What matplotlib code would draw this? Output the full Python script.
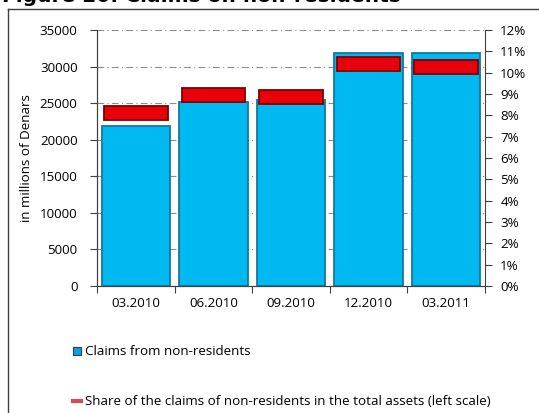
import matplotlib
matplotlib.use("Agg")
import matplotlib.pyplot as plt
from matplotlib.lines import Line2D
from matplotlib.patches import Patch
from matplotlib.ticker import PercentFormatter, FixedLocator, NullFormatter

categories = ["03.2010", "06.2010", "09.2010", "12.2010", "03.2011"]
claims = [21900, 25200, 25400, 31800, 31800]
share = [8.1, 8.94, 8.85, 10.39, 10.28]
left_ticks = [0, 5000, 10000, 15000, 20000, 25000, 30000, 35000]
right_ticks = list(range(0, 13))

title = "Figure 20: Claims on non-residents"
ylabel = "in millions of Denars"
legend_labels = ["Claims from non-residents",
                 "Share of the claims of non-residents in the total assets (left scale)"]

FONT = "Open Sans"
FS = 9.6

fig = plt.figure(figsize=(5.39, 4.13), dpi=100)
W, H = 539, 413
ax = fig.add_axes([97 / W, 1 - 286 / H, (485 - 97) / W, (286 - 30) / H])
ax2 = ax.twinx()

x = list(range(len(categories)))
ax.bar(x, claims, width=0.88, color="#00B9F0", edgecolor="#13789C", linewidth=1.3, zorder=3)
ax.set_xlim(-0.5, len(categories) - 0.5)
ax.set_ylim(0, 35000)
ax.set_yticks(left_ticks)
ax.set_yticklabels([str(v) for v in left_ticks], fontfamily=FONT, fontsize=FS)
ax.yaxis.grid(True, linestyle=(0, (6, 3, 1, 3)), color="#8c8c8c", linewidth=0.8, zorder=0)
ax.set_axisbelow(True)

# x ticks at boundaries, labels at centers
ax.xaxis.set_major_locator(FixedLocator([i - 0.5 for i in range(len(categories) + 1)]))
ax.xaxis.set_major_formatter(NullFormatter())
ax.xaxis.set_minor_locator(FixedLocator(x))
ax.set_xticklabels(categories, minor=True, fontfamily=FONT, fontsize=FS)
ax.tick_params(axis="x", which="major", direction="out", length=5, color="#404040")
ax.tick_params(axis="x", which="minor", length=0, pad=8)
ax.tick_params(axis="y", direction="out", length=5, pad=9, color="#404040")

heights = 0.66
ax2.bar(x, [heights] * len(share), bottom=[s - heights / 2 for s in share], width=0.82,
        color="#E8000B", edgecolor="#7A0000", linewidth=1.3, zorder=4)
ax2.set_ylim(0, 12)
ax2.set_yticks(right_ticks)
ax2.yaxis.set_major_formatter(PercentFormatter(decimals=0))
for lab in ax2.get_yticklabels():
    lab.set_fontfamily(FONT)
    lab.set_fontsize(FS)
ax2.tick_params(axis="y", direction="out", length=5, pad=6, color="#404040")

for a in (ax, ax2):
    a.spines["top"].set_visible(False)
    for s in ("left", "right", "bottom"):
        a.spines[s].set_color("#404040")
ax.spines["right"].set_visible(False)

fig.text(27 / W, 1 - 158 / H, ylabel, rotation=90, ha="center", va="center",
         fontfamily=FONT, fontsize=FS)

fig.text(2 / W, 1 - 2.5 / H, title, fontweight="bold", fontsize=14.5,
         fontfamily="DejaVu Sans", va="baseline", ha="left")

# outer frame
fig.add_artist(Line2D([7.5 / W, 7.5 / W], [0, 1 - 9 / H], transform=fig.transFigure,
                      color="#404040", linewidth=1))
fig.add_artist(Line2D([7.5 / W, 1], [1 - 9 / H, 1 - 9 / H], transform=fig.transFigure,
                      color="#404040", linewidth=1))

handles = [Patch(facecolor="#1A9AD6", edgecolor="#0A4F72", linewidth=0.8),
           Line2D([0], [0], color="#D05050", linewidth=3)]
fig.legend(handles, legend_labels, loc="upper left", bbox_to_anchor=(68 / W, 1 - 340 / H),
           frameon=False, prop={"family": FONT, "size": FS}, handlelength=0.6,
           handleheight=0.55, handletextpad=0.25, labelspacing=2.75, borderaxespad=0)

fig.savefig("out.png", dpi=100)
